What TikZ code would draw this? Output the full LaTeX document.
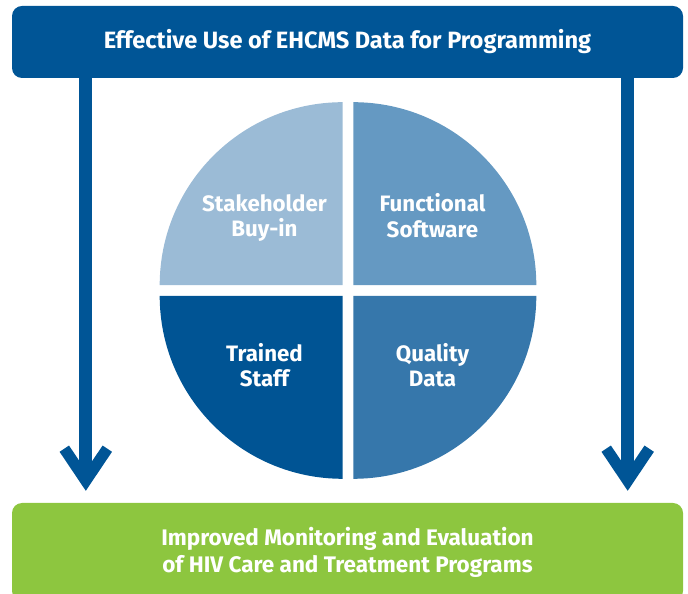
\documentclass[tikz,border=0pt]{standalone}
\usepackage{fontspec}
\setmainfont{Fira Sans}
\usetikzlibrary{arrows.meta,calc}

\definecolor{barblue}{RGB}{0,85,150}
\definecolor{paleblue}{RGB}{155,187,214}
\definecolor{midblue}{RGB}{101,153,194}
\definecolor{deepblue}{RGB}{0,84,148}
\definecolor{steelblue}{RGB}{54,119,171}
\definecolor{leafgreen}{RGB}{141,198,63}

\tikzset{
  bar/.style={rounded corners=10pt, minimum width=671pt, inner sep=0pt,
    text=white, align=center},
  flow/.style={barblue, line width=13.3pt,
    -{Straight Barb[length=32pt,width=43pt,line width=11.3pt]}},
  quarter/.style={text=white, align=center, execute at end node=\strut,
    font=\bfseries\fontsize{22.3}{25.5}\selectfont}
}

\begin{document}
\begin{tikzpicture}[x=1pt,y=1pt]
            \useasboundingbox (0,0) rectangle (688,594);
            \node[bar, fill=barblue, minimum height=72pt,
                font=\bfseries\fontsize{23.6}{28}\selectfont] (goal) at (347.5,552)
                {Effective Use of EHCMS Data for Programming};
            \node[bar, fill=leafgreen, minimum height=98pt,
                font=\bfseries\fontsize{22.5}{27}\selectfont] (outcome) at (347.5,42)
                {Improved Monitoring and Evaluation\\of HIV Care and Treatment Programs};
            \coordinate (hub) at (348,303.5);
            \foreach \a/\c in {90/midblue, 180/paleblue, 270/deepblue, 360/steelblue}
                \fill[\c] ($(hub)+(\a-45:7.5)$) -- ++(\a-90:183)
                    arc[start angle=\a-90, end angle=\a, radius=183] -- cycle;
            \node[quarter] (buyin) at (264.5,374.5) {Stakeholder\\Buy-in};
            \node[quarter] (software) at (432.5,374.5) {Functional\\Software};
            \node[quarter] (staff) at (264.5,225) {Trained\\Staff};
            \node[quarter] (quality) at (432.5,225) {Quality\\Data};
            \draw[flow] ([xshift=74pt]goal.south west)
                -- ([xshift=74pt,yshift=12pt]outcome.north west);
            \draw[flow] ([xshift=-55.5pt]goal.south east)
                -- ([xshift=-55.5pt,yshift=12pt]outcome.north east);
\end{tikzpicture}
\end{document}
